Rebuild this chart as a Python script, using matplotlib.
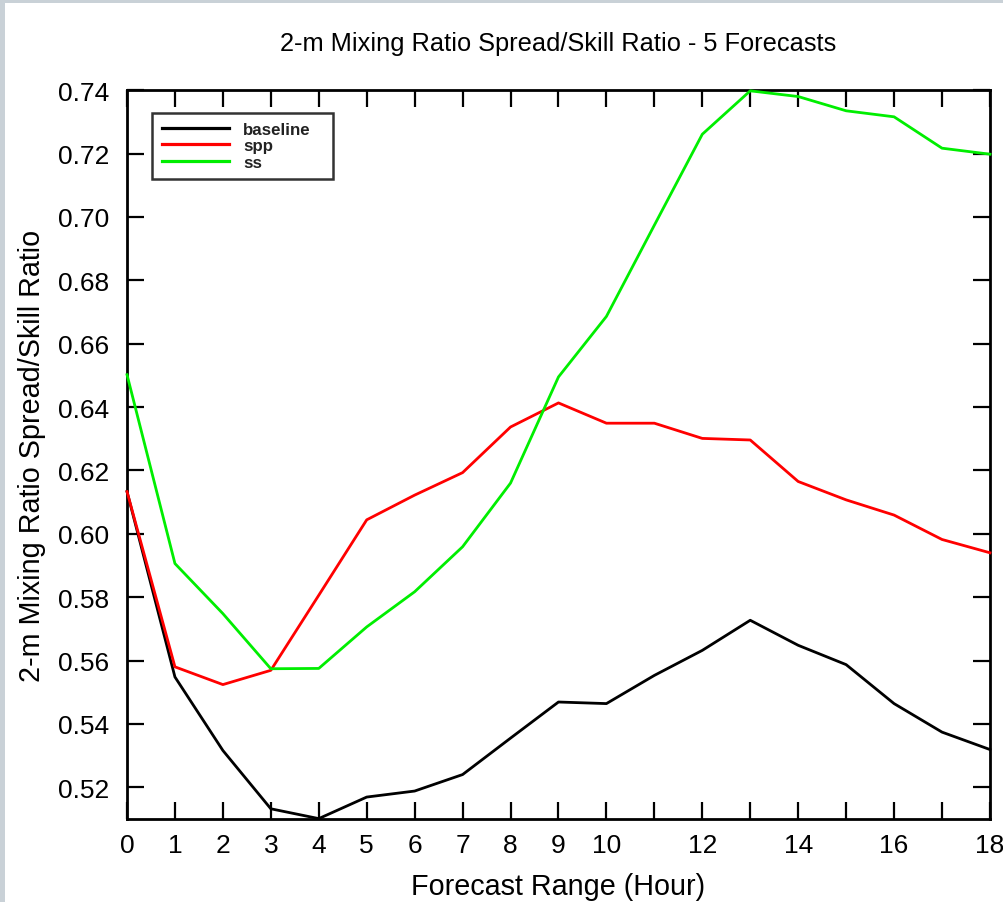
import matplotlib
matplotlib.use("Agg")
import matplotlib.pyplot as plt
from matplotlib.patches import Rectangle

plt.rcParams['font.family'] = ['Liberation Sans', 'DejaVu Sans']

hours = list(range(0, 19))
baseline = [0.6133, 0.5548, 0.5316, 0.5132, 0.5101, 0.5169, 0.5188, 0.5240, 0.5355,
            0.5469, 0.5464, 0.5553, 0.5632, 0.5727, 0.5648, 0.5587, 0.5464, 0.5374, 0.5319]
spp = [0.6133, 0.5580, 0.5524, 0.5569, 0.5806, 0.6044, 0.6122, 0.6193, 0.6337,
       0.6413, 0.6349, 0.6349, 0.6301, 0.6296, 0.6165, 0.6107, 0.6059, 0.5982, 0.5940]
ss = [0.6502, 0.5906, 0.5748, 0.5574, 0.5575, 0.5706, 0.5817, 0.5959, 0.6160,
      0.6495, 0.6686, 0.6974, 0.7261, 0.7398, 0.7380, 0.7335, 0.7316, 0.7217, 0.7198]
series_names = ['baseline', 'spp', 'ss']
xtick_labels = ['0', '1', '2', '3', '4', '5', '6', '7', '8', '9', '10',
                '', '12', '', '14', '', '16', '', '18']
yticks = [0.52, 0.54, 0.56, 0.58, 0.60, 0.62, 0.64, 0.66, 0.68, 0.70, 0.72, 0.74]

fig = plt.figure(figsize=(10.04, 9.03), dpi=100)
# screenshot border strips
fig.patches.append(Rectangle((0, 0.9956), 1, 0.0044, transform=fig.transFigure,
                             facecolor='#c9d1d7', edgecolor='none', zorder=0))
fig.patches.append(Rectangle((0, 0), 0.005, 1, transform=fig.transFigure,
                             facecolor='#c9d1d7', edgecolor='none', zorder=0))

ax = fig.add_axes([0.1265, 0.092, 0.8595, 0.807])
colors = ['#000000', '#ff0000', '#00ee00']
for name, vals, c in zip(series_names, [baseline, spp, ss], colors):
    ax.plot(hours, vals, color=c, lw=2.0, label=name, clip_on=False, zorder=3)

ax.set_xlim(0, 18)
ax.set_ylim(0.51, 0.74)
ax.set_xticks(hours)
ax.set_xticklabels(xtick_labels)
ax.set_yticks(yticks)
ax.set_yticklabels([f'{v:.2f}' for v in yticks])
ax.tick_params(axis='both', direction='in', length=12.5, width=1.6,
               top=True, right=True, labelsize=19)
ax.tick_params(axis='x', pad=10)
ax.tick_params(axis='y', pad=13)
for s in ax.spines.values():
    s.set_linewidth(2.0)

ax.set_title('2-m Mixing Ratio Spread/Skill Ratio - 5 Forecasts', fontsize=18.3, pad=29)
ax.set_xlabel('Forecast Range (Hour)', fontsize=20.7, labelpad=11)
ax.set_ylabel('2-m Mixing Ratio Spread/Skill Ratio', fontsize=20.7, labelpad=8)

leg = ax.legend(loc='upper left', bbox_to_anchor=(0.0293, 0.9, 0.209, 0.0694),
                mode='expand', prop={'size': 12.2, 'weight': 'bold'},
                frameon=True, fancybox=False, handlelength=4.0, handletextpad=0.8,
                labelspacing=0.08, borderpad=0.55, borderaxespad=0)
leg.get_frame().set_edgecolor('black')
leg.get_frame().set_linewidth(1.8)
for t in leg.get_texts():
    t.set_color('#222222')
for h in leg.get_lines():
    h.set_linewidth(2.3)

fig.savefig('out.png', dpi=100)
